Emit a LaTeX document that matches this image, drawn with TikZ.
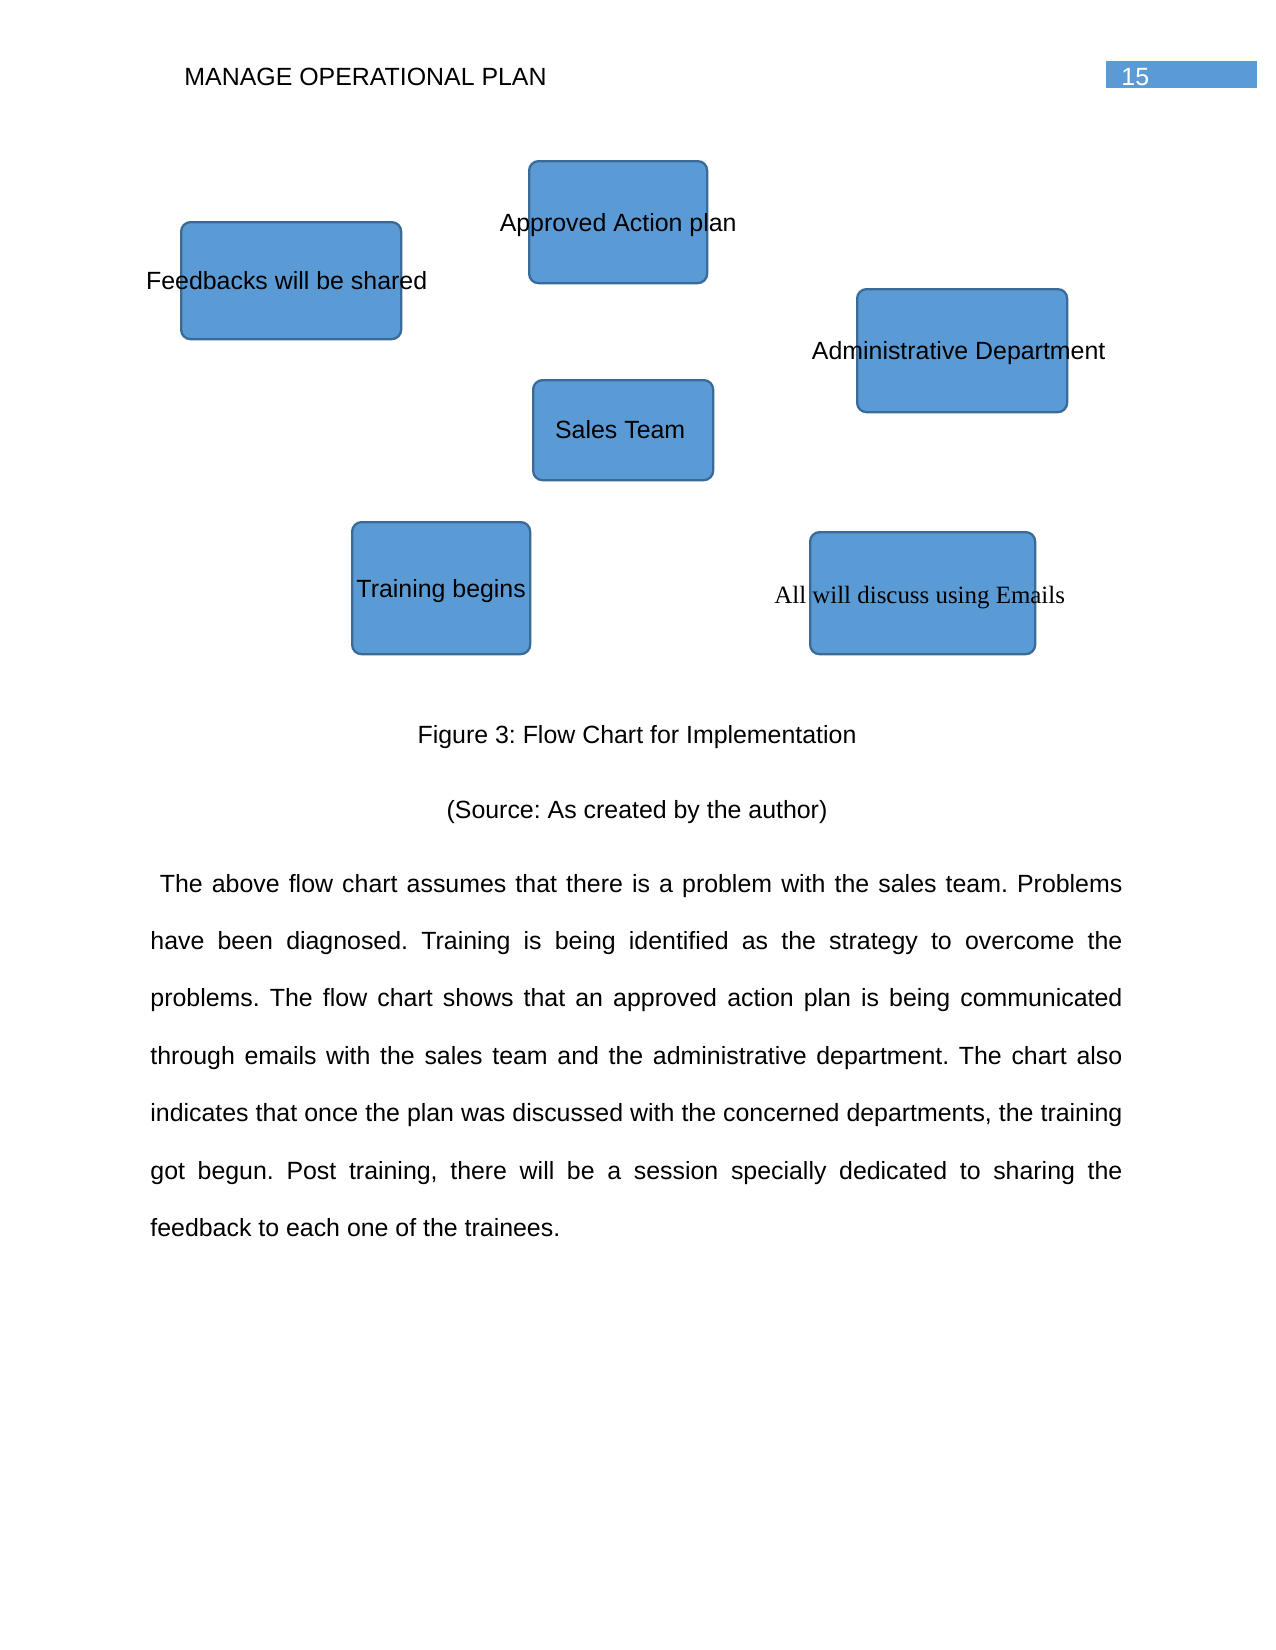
\documentclass[tikz,border=0pt]{standalone}
\usepackage{fontspec}
\setmainfont{Liberation Sans}
\newfontfamily\tnr{Liberation Serif}
\frenchspacing
\definecolor{boxfill}{HTML}{5B9BD5}
\definecolor{boxline}{HTML}{3A6A98}
\begin{document}
\begin{tikzpicture}[x=0.48bp,y=-0.48bp,
  flowbox/.style={draw=boxline,fill=boxfill,line width=1.1bp,rounded corners=4.5bp,inner sep=0pt},
  lbl/.style={font=\fontsize{12}{14}\selectfont,inner sep=0pt,text=black},
  body/.style={font=\fontsize{12}{14}\selectfont\frenchspacing,inner sep=0pt}]
\useasboundingbox (0,0) rectangle (1275,1650);
% header
\node[body,anchor=base west] (hdr) at (184,85) {MANAGE OPERATIONAL PLAN};
\node[fill=boxfill,minimum width=151*0.48bp,minimum height=27*0.48bp,inner sep=0pt,anchor=north west] (pgbox) at (1106,61) {};
\node[body,anchor=base west,text=white] (pgnum) at (1121,85) {15};
% boxes
\path (180,221) node[flowbox,anchor=north west,minimum width=220*0.48bp,minimum height=117*0.48bp] (fb) {};
\path (528,160) node[flowbox,anchor=north west,minimum width=178*0.48bp,minimum height=122*0.48bp] (ap) {};
\path (856,288) node[flowbox,anchor=north west,minimum width=210*0.48bp,minimum height=123*0.48bp] (ad) {};
\path (532,379) node[flowbox,anchor=north west,minimum width=180*0.48bp,minimum height=100*0.48bp] (st) {};
\path (351,521) node[flowbox,anchor=north west,minimum width=178*0.48bp,minimum height=132*0.48bp] (tb) {};
\path (809,531) node[flowbox,anchor=north west,minimum width=225*0.48bp,minimum height=122*0.48bp] (em) {};
% labels
\node[lbl,anchor=base] (fbl) at ([xshift=-4.5*0.48bp,yshift=-9*0.48bp]fb.center) {Feedbacks will be shared};
\node[lbl,anchor=base] (apl) at ([yshift=-9*0.48bp]ap.center) {Approved Action plan};
\node[lbl,anchor=base] (adl) at ([xshift=-3.5*0.48bp,yshift=-9*0.48bp]ad.center) {Administrative Department};
\node[lbl,anchor=base] (stl) at ([xshift=-3*0.48bp,yshift=-8*0.48bp]st.center) {Sales Team};
\node[lbl,anchor=base] (tbl) at ([yshift=-9*0.48bp]tb.center) {Training begins};
\node[lbl,anchor=base,font=\tnr\fontsize{12}{14}\selectfont] (eml) at ([xshift=-3*0.48bp,yshift=-10*0.48bp]em.center) {All will discuss using Emails};
% caption
\node[body,anchor=base] (cap) at (637,743) {Figure 3: Flow Chart for Implementation};
\node[body,anchor=base] (src) at (637,818) {(Source: As created by the author)};
% paragraph
\node[body,anchor=base west,text width=972*0.48bp,align=justify] (para) at (150,892) {\frenchspacing\baselineskip=27.55bp\relax
\hspace*{4.5bp}The above flow chart assumes that there is a problem with the sales team. Problems\linebreak
have been diagnosed. Training is being identified as the strategy to overcome the\linebreak
problems. The flow chart shows that an approved action plan is being communicated\linebreak
through emails with the sales team and the administrative department. The chart also\linebreak
indicates that once the plan was discussed with the concerned departments, the training\linebreak
got begun. Post training, there will be a session specially dedicated to sharing the\linebreak
feedback to each one of the trainees.\par};
\end{tikzpicture}
\end{document}
